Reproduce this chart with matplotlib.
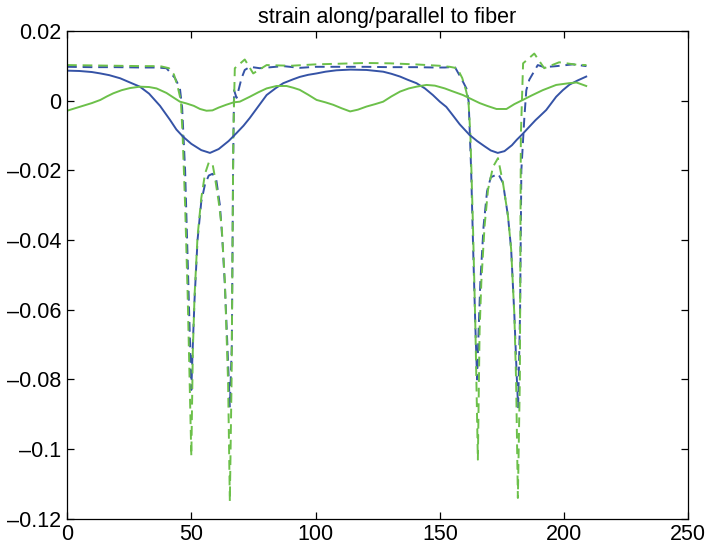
import numpy as np
import matplotlib
matplotlib.use("Agg")
import matplotlib.pyplot as plt
from matplotlib.ticker import FuncFormatter

# solid lines
bs_x = [0, 5, 10, 13.4, 17, 21.4, 25, 29.3, 33, 37.4, 41.4, 44, 46.6, 50, 54, 57.5, 61, 65,
        68.2, 71, 73.5, 77, 80.3, 84, 87, 90.9, 93.6, 97, 100.4, 104, 108.4, 114, 120.5, 127.2,
        130.5, 134, 137, 140.6, 144, 147.2, 150, 152.6, 155, 158, 161.9, 165, 168, 170.5, 173.3,
        176, 179, 181, 183.4, 186, 188.5, 190, 192.8, 196.8, 199.5, 202.2, 205.5, 208.9]
bs_y = [0.0086, 0.0085, 0.0082, 0.0078, 0.0073, 0.0064, 0.0053, 0.0040, 0.0020, -0.0015,
        -0.0055, -0.0083, -0.0103, -0.0124, -0.0142, -0.0150, -0.0139, -0.0116,
        -0.0093, -0.0072, -0.0050, -0.0016, 0.0016, 0.0036, 0.0050, 0.0061, 0.0068, 0.0074,
        0.0078, 0.0083, 0.0087, 0.0089, 0.0088, 0.0083,
        0.0077, 0.0069, 0.0060, 0.0050, 0.0035, 0.0016, -0.0003, -0.0018, -0.0040, -0.0068,
        -0.0098, -0.0116, -0.0131, -0.0143, -0.0150,
        -0.0145, -0.0128, -0.0112, -0.0095, -0.0075, -0.0056, -0.0046, -0.0027, 0.0011, 0.0030,
        0.0046, 0.0058, 0.0069]

gs_x = [0, 5, 10, 13.4, 16, 18.6, 22, 25.3, 29.3, 33, 36, 40, 43, 45.4, 48, 51, 53.5, 56.1,
        58.5, 61, 64, 67, 69.5, 71.5, 73.5, 77, 80.3, 84.3, 88.3, 91, 93.6, 97, 100.4, 104,
        107.1, 110.5, 113.9, 117, 120.5, 124, 127.2, 130.5, 134, 137.5, 140.6, 144.6, 148, 152,
        155, 159.3, 162.5, 166, 169, 172.8, 176.8, 180, 183.4, 187, 191.4, 196.8, 202, 205, 208.9]
gs_y = [-0.0029, -0.0018, -0.0007, 0.0002, 0.0012, 0.0021, 0.0030, 0.0036, 0.0040, 0.0039,
        0.0035, 0.0022, 0.0008, -0.0003, -0.0008, -0.0015, -0.0024, -0.0029,
        -0.0028, -0.0020, -0.0012, -0.0005, -0.0003, 0.0004, 0.0011, 0.0024, 0.0035, 0.0042,
        0.0042, 0.0037, 0.0031, 0.0017, 0.0002, -0.0005,
        -0.0012, -0.0022, -0.0031, -0.0026, -0.0017, -0.0010, -0.0003, 0.0012, 0.0026, 0.0035,
        0.0040, 0.0045, 0.0043, 0.0035,
        0.0027, 0.0016, 0.0005, -0.0007, -0.0015, -0.0024, -0.0024, -0.0010, 0.0002, 0.0015,
        0.0030, 0.0045, 0.0050, 0.0052, 0.0042]

# dashed lines
bd_x = [0, 10, 20, 30, 36, 40, 43.4, 45.4, 46.3, 47.5, 48.5, 49.5, 50, 50.6, 51.3, 52.5, 54,
        55.5, 57, 58.5, 60, 61.5, 62.5, 63.5, 64.5, 65.5, 66.3, 66.8, 67.2, 68.2, 70.2, 71.5,
        73.6, 77.5, 87, 93.6, 100, 110, 120, 130, 140, 148, 152, 156, 158.6, 160.7, 161.6,
        162.6, 163.5, 164.3, 165, 165.6, 166.3, 167.6, 169, 170.5, 172, 173.5, 175.4, 177.4,
        178.7, 180, 181, 181.5, 182.3, 182.8, 184, 184.8, 186, 189.4, 192, 197, 203.5, 209]
bd_y = [0.0097, 0.0096, 0.0096, 0.0095, 0.0095, 0.0093, 0.0065, 0.0036, -0.0020, -0.0200,
        -0.0450, -0.0700, -0.0830, -0.0700, -0.0570, -0.0400, -0.0290,
        -0.0240, -0.0215, -0.0210, -0.0225, -0.0300, -0.0400, -0.0530, -0.0700, -0.0880,
        -0.0700, -0.0200, 0.0030, 0.0008, 0.0064, 0.0088,
        0.0097, 0.0093, 0.0099, 0.0094, 0.0097, 0.0097, 0.0097, 0.0096, 0.0096, 0.0095,
        0.0095, 0.0097, 0.0064, 0.0035, -0.0003,
        -0.0200, -0.0450, -0.0650, -0.0800, -0.0660, -0.0520, -0.0360, -0.0260, -0.0220,
        -0.0215, -0.0210, -0.0236, -0.0330,
        -0.0427, -0.0617, -0.0800, -0.0880, -0.0600, -0.0200, -0.0050, 0.0030, 0.0060,
        0.0102, 0.0096, 0.0099, 0.0104, 0.0099]

gd_x = [0, 10, 20, 30, 36, 38, 41, 43, 44.5, 45.8, 46.5, 47.5, 48.5, 49.3, 50, 50.6, 51.3,
        52.5, 54, 55.5, 57, 58.5, 59.5, 61, 62.2, 63.5, 64.8, 65.5, 66.2, 66.9, 67.5, 71.5,
        74.9, 80.3, 90, 100, 110, 120, 130, 140, 150, 154, 157, 159, 160.5, 161.5, 162.3,
        163.3, 164.3, 165.3, 166, 166.7, 168, 169.4, 171.4, 173.4, 175.4, 177.4, 178.7, 180,
        180.7, 181.4, 182.2, 182.6, 183.5, 188, 192, 198, 205, 209]
gd_y = [0.0102, 0.0101, 0.0100, 0.0099, 0.0099, 0.0098, 0.0093, 0.0075, 0.0040, 0.0000,
        -0.0100, -0.0300, -0.0550, -0.0800, -0.1020, -0.0720, -0.0560,
        -0.0390, -0.0280, -0.0210, -0.0178, -0.0180, -0.0220, -0.0290, -0.0360, -0.0520,
        -0.0810, -0.1150, -0.0800, -0.0100, 0.0093, 0.0118,
        0.0078, 0.0102, 0.0100, 0.0104, 0.0106, 0.0108, 0.0107, 0.0104, 0.0100, 0.0097,
        0.0093, 0.0065, 0.0030, 0.0000, -0.0100,
        -0.0350, -0.0650, -0.1030, -0.0660, -0.0520, -0.0360, -0.0255, -0.0190, -0.0165,
        -0.0236, -0.0330, -0.0427, -0.0617,
        -0.0808, -0.1140, -0.0800, -0.0100, 0.0107, 0.0135, 0.0093, 0.0110, 0.0103, 0.0102]

blue = "#3553a6"
green = "#6cc04a"

plt.rcParams["font.family"] = ["Liberation Sans", "DejaVu Sans"]

fig = plt.figure(figsize=(7.06, 5.52), dpi=100)
ax = fig.add_axes([0.095, 0.06, 0.88, 0.884])

ax.plot(bd_x, bd_y, color=blue, lw=1.4, dashes=(5, 3))
ax.plot(gd_x, gd_y, color=green, lw=1.4, dashes=(5, 3))
ax.plot(bs_x, bs_y, color=blue, lw=1.4)
ax.plot(gs_x, gs_y, color=green, lw=1.4)

ax.set_xlim(0, 250)
ax.set_ylim(-0.12, 0.02)
ax.set_xticks(np.arange(0, 251, 50))
ax.set_yticks([0.02, 0, -0.02, -0.04, -0.06, -0.08, -0.1, -0.12])


def fmt(v, pos):
    s = "%g" % round(v, 4)
    return s.replace("-", "\u2013")


ax.yaxis.set_major_formatter(FuncFormatter(fmt))
ax.xaxis.set_major_formatter(FuncFormatter(fmt))
ax.tick_params(direction="in", length=5, width=0.9, top=True, right=True,
               labelsize=15.5, pad=4)
for s in ax.spines.values():
    s.set_linewidth(0.9)

ax.set_title("strain along/parallel to fiber", fontsize=15.5, pad=6, x=0.515)

fig.savefig("out.png", dpi=100)
